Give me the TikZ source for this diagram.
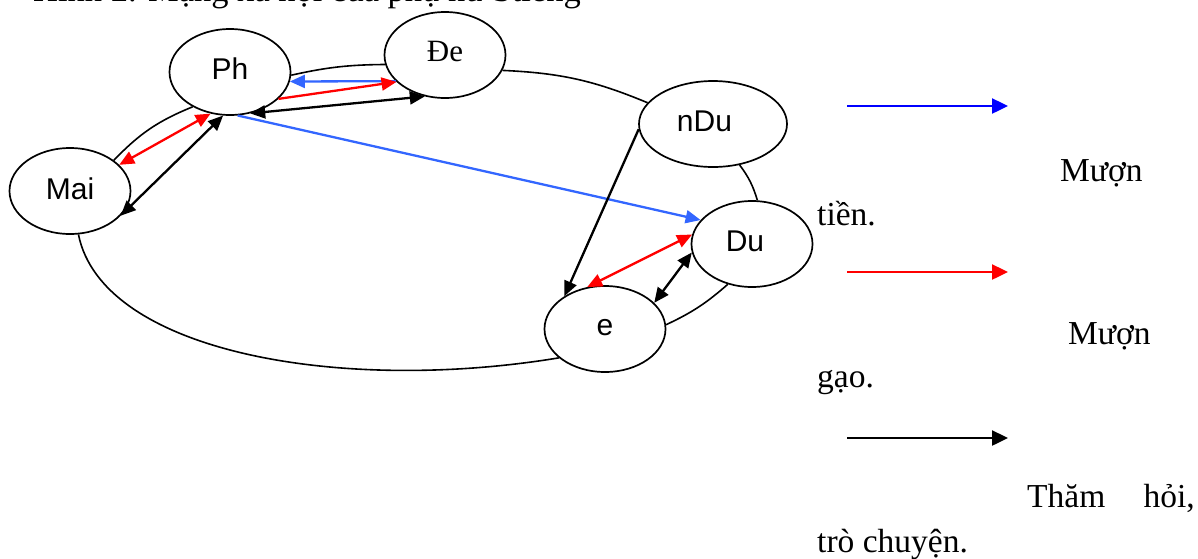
\documentclass[tikz,border=0pt]{standalone}
\usepackage{fontspec}
\setmainfont{Liberation Serif}
\setsansfont{Liberation Sans}
\usetikzlibrary{arrows.meta,shapes.geometric}

\definecolor{linkblue}{RGB}{51,102,255}
\definecolor{keyblue}{RGB}{0,0,255}
\definecolor{keyred}{RGB}{255,0,0}

\tikzset{
  person/.style={ellipse, draw=black, line width=1.7pt, fill=white,
    minimum width=121pt, minimum height=86pt, inner sep=0pt,
    font=\sffamily\fontsize{30}{34}\selectfont,
    text height=14pt, text depth=0pt},
  ring/.style={draw=black, line width=1.6pt},
  tie/.style={line width=2.3pt, >={Triangle[length=15pt,width=13pt]}},
  keyarrow/.style={line width=2.4pt, ->, >={Triangle[length=16pt,width=15pt]}},
  caption/.style={inner sep=0pt, font=\fontsize{33.5}{38}\selectfont},
}

\begin{document}
\begin{tikzpicture}[x=1pt,y=1pt]
\useasboundingbox (0,0) rectangle (1198,-558);
\clip (0,0) rectangle (1198,-558);

% heading of the figure
\node[caption, anchor=base west, font=\fontsize{34.5}{40}\selectfont]
  (title) at (33,-1) {Hình 2. Mạng xã hội của phụ nữ Stiêng};

% people
\node[person] (Ph)  at (230,-72)  {Ph};
\node[person, font=\rmfamily\fontsize{31}{36}\selectfont, text height=12pt]
  (De)  at (445,-55)  {Đe};
\node[person, text height=16pt] (Mai) at (70,-191)  {Mai};
\node[person, minimum width=148pt] (nDu) at (713,-124) {\kern-17pt nDu};
\node[person] (Du)  at (752,-244) {\kern-14pt Du};
\node[person, text height=12pt] (e)   at (605,-329) {e};

% outer ring of the community
\draw[ring] (Ph.357)  to[bend left=6]  (De.189.3);
\draw[ring] (De.345.5) to[bend left=10] (nDu.162.3);
\draw[ring] (nDu.303) to[bend left=10] (Du.83);
\draw[ring] (Du.239)  to[bend left=8]  (e.4);
\draw[ring] (e.212) .. controls (340,-394) and (102,-352) .. (Mai.281);
\draw[ring] (Mai.35.8) to[bend left=12] (Ph.223.4);

% borrowing money
\draw[tie, linkblue, ->] (De.208.4) -- (Ph.351.7);
\draw[tie, linkblue, ->] (Ph.280) -- (Du.155);

% borrowing rice
\draw[tie, keyred, ->]  (Ph.331) -- (De.209);
\draw[tie, keyred, <->] (Mai.28.4) -- (Ph.245);
\draw[tie, keyred, <->] (Du.171.5) -- (e.113);

% visiting and talking
\draw[tie, black, <->] (Ph.296) -- (De.244.5);
\draw[tie, black, <->] (Mai.334.4) -- (Ph.261.2);
\draw[tie, black, ->]  (nDu.184.6) -- (e.141.7);
\draw[tie, black, <->] (Du.188.7) -- (e.28.4);

% key
\coordinate (k1a) at (847,-106);  \coordinate (k1b) at (1008,-106);
\coordinate (k2a) at (847,-272);  \coordinate (k2b) at (1008,-272);
\coordinate (k3a) at (847,-438);  \coordinate (k3b) at (1008,-438);
\draw[keyarrow, keyblue] (k1a) -- (k1b);
\draw[keyarrow, keyred]  (k2a) -- (k2b);
\draw[keyarrow, black]   (k3a) -- (k3b);

\node[caption, anchor=base west] (m1) at (1060,-181) {Mượn};
\node[caption, anchor=base west] (m2) at (817,-225)  {tiền.};
\node[caption, anchor=base west] (r1) at (1068,-344) {Mượn};
\node[caption, anchor=base west] (r2) at (817,-387)  {gạo.};
\node[caption, anchor=base west] (v1) at (1027,-507) {Thăm};
\node[caption, anchor=base east] (v2) at (1195,-507) {hỏi,};
\node[caption, anchor=base west] (v3) at (817,-552)  {trò chuyện.};
\end{tikzpicture}
\end{document}
